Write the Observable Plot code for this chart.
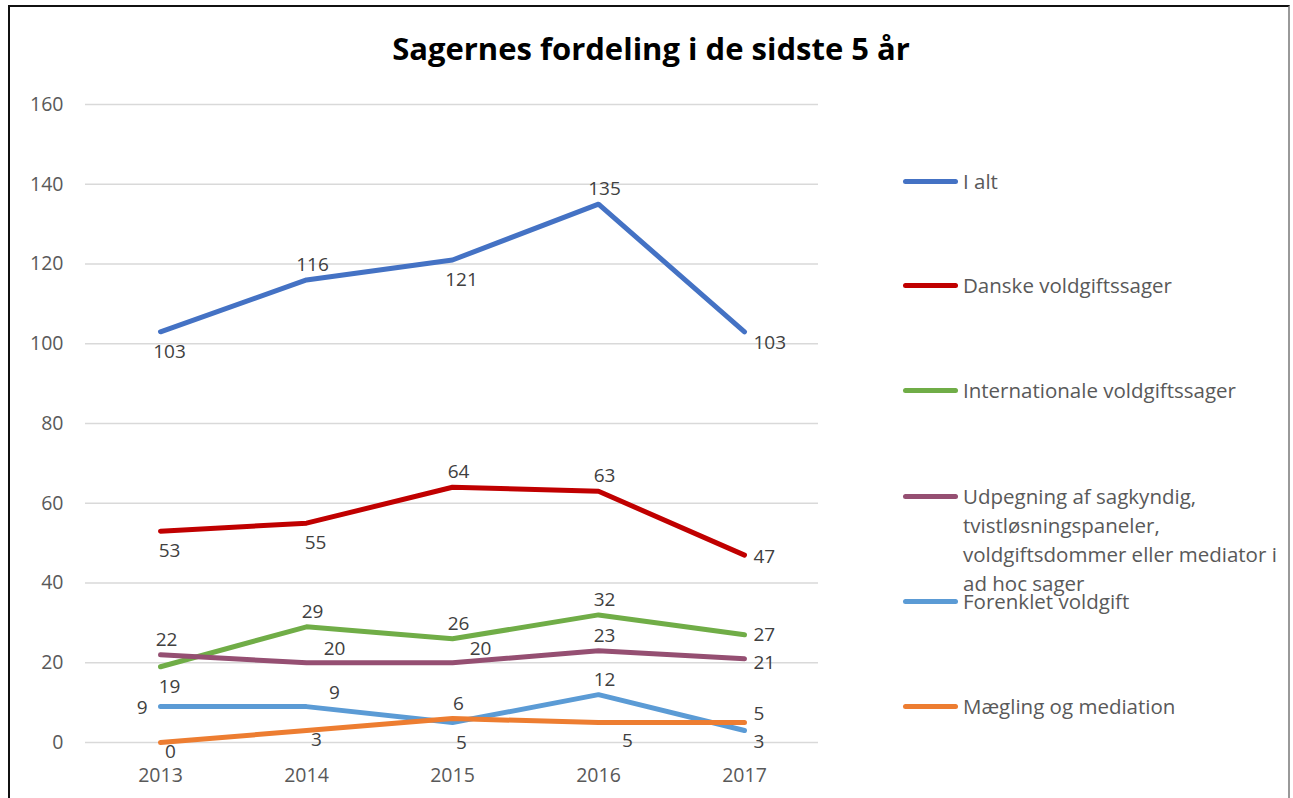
<!DOCTYPE html>
<html>
<head>
<meta charset="utf-8">
<script src="https://cdn.jsdelivr.net/npm/d3@7"></script>
<script src="https://cdn.jsdelivr.net/npm/@observablehq/plot@0.6"></script>
<style>
  html, body { margin: 0; padding: 0; background: #fff; }
  #frame { position: relative; width: 1293px; height: 798px; overflow: hidden; font-family: "Open Sans", sans-serif; }
  #border { position: absolute; left: 8px; top: 5px; width: 1282px; height: 800px;
            border-left: 2px solid #111; border-top: 2px solid #111; border-right: 2px solid #999; box-sizing: border-box; }
  #title { position: absolute; left: 0; width: 1302px; top: 27px; text-align: center;
           font: bold 31px "Open Sans", sans-serif; color: #000; }
  #chart { position: absolute; left: 0; top: 0; }
  .lg { position: absolute; left: 903px; font-size: 20.5px; line-height: 29px; color: #595959; }
  .lg .sw { position: absolute; left: 0; top: 12px; width: 55px; height: 5px; border-radius: 3px; }
  .lg .tx { margin-left: 60px; white-space: nowrap; }
</style>
</head>
<body>
<div id="frame">
  <div id="border"></div>
  <div id="title">Sagernes fordeling i de sidste 5 år</div>
  <div id="chart"></div>
  <div id="legend"></div>
</div>
<script>
// ---- data ----
const years = ["2013", "2014", "2015", "2016", "2017"];
const seriesNames = [
  "I alt",
  "Danske voldgiftssager",
  "Internationale voldgiftssager",
  "Udpegning af sagkyndig, tvistløsningspaneler, voldgiftsdommer eller mediator i ad hoc sager",
  "Forenklet voldgift",
  "Mægling og mediation"
];
const iAlt           = [103, 116, 121, 135, 103];
const danske         = [53, 55, 64, 63, 47];
const internationale = [19, 29, 26, 32, 27];
const udpegning      = [22, 20, 20, 23, 21];
const forenklet      = [9, 9, 5, 12, 3];
const maegling       = [0, 3, 6, 5, 5];
const yTicks = [0, 20, 40, 60, 80, 100, 120, 140, 160];
const colors = ["#4472C4", "#C00000", "#70AD47", "#954F72", "#5B9BD5", "#ED7D31"];
// label placement codes (above, below, left, right ...)
const labelPlacement = [
  ["b", "a", "b", "a", "rb"],
  ["b", "b", "a", "a", "r"],
  ["b", "a", "a", "a", "ru"],
  ["a", "ar", "ar", "a", "rd"],
  ["l", "ar", "b", "a", "rb"],
  ["bs", "bs", "a", "br", "ra"]
];
// legend text lines
const legendLines = [
  ["I alt"],
  ["Danske voldgiftssager"],
  ["Internationale voldgiftssager"],
  ["Udpegning af sagkyndig,", "tvistløsningspaneler,", "voldgiftsdommer eller mediator i", "ad hoc sager"],
  ["Forenklet voldgift"],
  ["Mægling og mediation"]
];

// ---- build table ----
const allValues = [iAlt, danske, internationale, udpegning, forenklet, maegling];
const rows = [];
allValues.forEach((vals, si) => {
  vals.forEach((v, i) => rows.push({ series: seriesNames[si], year: years[i], value: v, pos: labelPlacement[si][i] }));
});

const placements = {
  a:  { dx: 6,  dy: -15, textAnchor: "middle" },
  b:  { dx: 9,  dy: 20,  textAnchor: "middle" },
  bs: { dx: 10, dy: 9,   textAnchor: "middle" },
  l:  { dx: -13, dy: 1,  textAnchor: "end" },
  r:  { dx: 9,  dy: 2,   textAnchor: "start" },
  ru: { dx: 9,  dy: 0,   textAnchor: "start" },
  rd: { dx: 9,  dy: 4,   textAnchor: "start" },
  rb: { dx: 9,  dy: 11,  textAnchor: "start" },
  ra: { dx: 9,  dy: -9,  textAnchor: "start" },
  ar: { dx: 28, dy: -14, textAnchor: "middle" },
  br: { dx: 29, dy: 18,  textAnchor: "middle" }
};

const labelMarks = Object.entries(placements).map(([code, o]) =>
  Plot.text(rows.filter(d => d.pos === code), {
    x: "year", y: "value", text: d => String(d.value),
    dx: o.dx, dy: o.dy, textAnchor: o.textAnchor,
    fill: "#404040", fontSize: 19, fontFamily: "Open Sans"
  })
);

const chart = Plot.plot({
  width: 830,
  height: 798,
  marginLeft: 85,
  marginRight: 12,
  marginTop: 104,
  marginBottom: 56,
  style: { fontFamily: "Open Sans", fontSize: "19.5px", color: "#595959", background: "transparent", overflow: "visible" },
  x: { type: "point", domain: years, padding: 0.5, label: null, tickSize: 0, tickPadding: 25 },
  y: { domain: [0, 160], ticks: yTicks, label: null, tickSize: 0, tickPadding: 22 },
  color: { domain: seriesNames, range: colors },
  marks: [
    Plot.gridY(yTicks, { stroke: "#d9d9d9", strokeOpacity: 1, strokeWidth: 1.5 }),
    Plot.axisY({ ticks: yTicks, tickSize: 0, tickPadding: 22, label: null, fill: "#595959" }),
    Plot.axisX({ tickSize: 0, tickPadding: 26, label: null, fill: "#595959" }),
    Plot.line(rows, { x: "year", y: "value", z: "series", stroke: "series", strokeWidth: 5, strokeLinecap: "round", strokeLinejoin: "round" }),
    ...labelMarks
  ]
});
document.getElementById("chart").appendChild(chart);

// ---- legend ----
const legendCenters = [181, 285, 390, 496, 601, 706];
const legend = document.getElementById("legend");
seriesNames.forEach((name, i) => {
  const item = document.createElement("div");
  item.className = "lg";
  item.style.top = (legendCenters[i] - 14.5) + "px";
  const sw = document.createElement("span");
  sw.className = "sw";
  sw.style.background = colors[i];
  item.appendChild(sw);
  const tx = document.createElement("div");
  tx.className = "tx";
  tx.innerHTML = legendLines[i].join("<br>");
  item.appendChild(tx);
  legend.appendChild(item);
});
</script>
</body>
</html>
